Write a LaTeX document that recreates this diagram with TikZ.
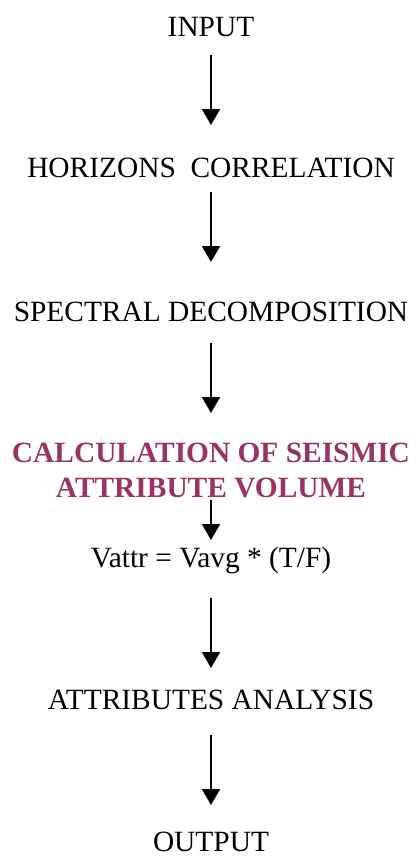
\documentclass[tikz,border=0pt]{standalone}
\usepackage{fontspec}
\setmainfont{Liberation Serif}
\usetikzlibrary{arrows.meta}
\definecolor{plum}{HTML}{993366}
\begin{document}
\begin{tikzpicture}[x=1pt,y=-1pt,
  lbl/.style={inner sep=0pt,font=\fontsize{29.4}{34}\selectfont},
  hl/.style={inner sep=0pt,font=\fontsize{29.4}{35}\selectfont\bfseries,text=plum,align=center},
  arr/.style={line width=2pt,-{Triangle[width=18pt,length=16pt]}}]
\useasboundingbox (0,0) rectangle (418,867);
\node[lbl] (in) at (211,27) {INPUT};
\node[lbl] (hc) at (211,168) {HORIZONS\ \ CORRELATION};
\node[lbl] (sd) at (211,312) {SPECTRAL DECOMPOSITION};
\node[hl] (ca) at (211,470) {CALCULATION OF SEISMIC\\ATTRIBUTE VOLUME};
\node[lbl] (eq) at (211,560) {Vattr = Vavg * (T/F)};
\node[lbl] (aa) at (211,700) {ATTRIBUTES ANALYSIS};
\node[lbl] (out) at (211,842) {OUTPUT};
\draw[arr,shorten <=28pt,shorten >=43pt] (in.center) -- (hc.center);
\draw[arr,shorten <=24pt,shorten >=50pt] (hc.center) -- (sd.center);
\draw[arr,shorten <=31pt,shorten >=57pt] (sd.center) -- (ca.center);
\draw[arr,shorten <=30pt,shorten >=20pt] (ca.center) -- (eq.center);
\draw[arr,shorten <=38pt,shorten >=32pt] (eq.center) -- (aa.center);
\draw[arr,shorten <=35pt,shorten >=37pt] (aa.center) -- (out.center);
\end{tikzpicture}
\end{document}
